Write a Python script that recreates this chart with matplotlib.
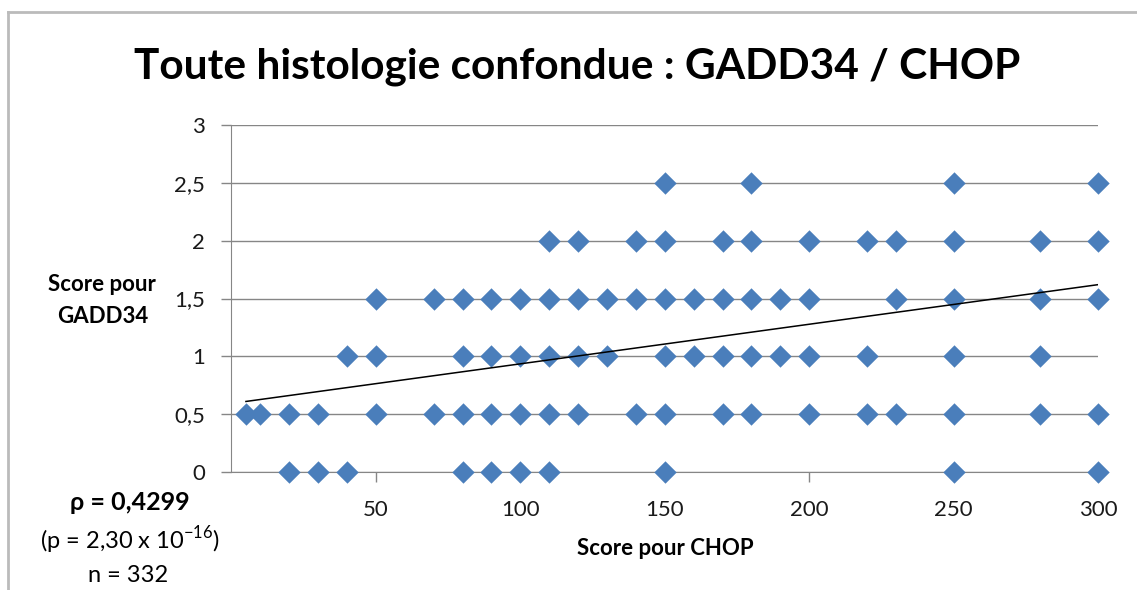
import matplotlib
matplotlib.use("Agg")
import matplotlib.pyplot as plt
from matplotlib.lines import Line2D

# scores CHOP (x) for each GADD34 level (y)
chop_g0 = [20, 30, 40, 80, 90, 100, 110, 150, 250, 300]
chop_g05 = [5, 10, 20, 30, 50, 70, 80, 90, 100, 110, 120, 140, 150, 170, 180,
            200, 220, 230, 250, 280, 300]
chop_g1 = [40, 50, 80, 90, 100, 110, 120, 130, 150, 160, 170, 180, 190, 200,
           220, 250, 280]
chop_g15 = [50, 70, 80, 90, 100, 110, 120, 130, 140, 150, 160, 170, 180, 190,
            200, 230, 250, 280, 300]
chop_g2 = [110, 120, 140, 150, 170, 180, 200, 220, 230, 250, 280, 300]
chop_g25 = [150, 180, 250, 300]
gadd_levels = [0, 0.5, 1, 1.5, 2, 2.5]

# linear trendline endpoints
trend_x = [5, 300]
trend_y = [0.61, 1.62]

x_ticks = [50, 100, 150, 200, 250, 300]
y_ticks = [0, 0.5, 1, 1.5, 2, 2.5, 3]
y_labels = ["0", "0,5", "1", "1,5", "2", "2,5", "3"]

plt.rcParams['font.family'] = ['Lato', 'DejaVu Sans']

fig = plt.figure(figsize=(11.37, 5.90), dpi=100)
ax = fig.add_axes([0.2036, 0.2, 0.7621, 0.588])

grid_col = '#868686'
blue = '#4A7EBB'

xs, ys = [], []
for lvl, row in zip(gadd_levels, [chop_g0, chop_g05, chop_g1, chop_g15, chop_g2, chop_g25]):
    xs += row
    ys += [lvl] * len(row)

ax.scatter(xs, ys, marker='D', s=130, color=blue, linewidths=0, zorder=3, clip_on=False)
ax.plot(trend_x, trend_y, color='black', lw=1.1, zorder=4)

ax.set_xlim(0, 300)
ax.set_ylim(0, 3)
ax.set_xticks(x_ticks)
ax.set_yticks(y_ticks)
ax.set_yticklabels(y_labels)
ax.yaxis.grid(True, color=grid_col, lw=1)
ax.set_axisbelow(True)
for s in ['top', 'right']:
    ax.spines[s].set_visible(False)
for s in ['left', 'bottom']:
    ax.spines[s].set_color(grid_col)
ax.tick_params(axis='both', colors=grid_col, length=7, width=1, labelsize=16,
               labelcolor='#1a1a1a', direction='out')
ax.tick_params(axis='y', pad=12)
ax.tick_params(axis='x', pad=13)

fig.text(0.508, 0.887, "Toute histologie confondue : GADD34 / CHOP",
         ha='center', va='center', fontsize=30.5, fontweight='bold')
fig.text(0.09, 0.49, "Score pour\nGADD34", ha='center', va='center',
         fontsize=16, fontweight='bold', linespacing=1.65)
fig.text(0.585, 0.071, "Score pour CHOP", ha='center', va='center',
         fontsize=16, fontweight='bold')

fig.text(0.114, 0.149, "ρ = 0,4299", ha='center', va='center',
         fontsize=18, fontweight='bold')
fig.text(0.114, 0.085, r"(p = 2,30 x 10$^{\mathregular{-16}}$)", ha='center', va='center',
         fontsize=17)
fig.text(0.113, 0.025, "n = 332", ha='center', va='center', fontsize=17)

# chart frame (left and top edges visible)
fig.add_artist(Line2D([0.007, 0.007], [0.0, 0.98], transform=fig.transFigure,
                      color='#BBBBBB', lw=2))
fig.add_artist(Line2D([0.007, 1.0], [0.98, 0.98], transform=fig.transFigure,
                      color='#BBBBBB', lw=2))

fig.savefig("out.png", dpi=100)
